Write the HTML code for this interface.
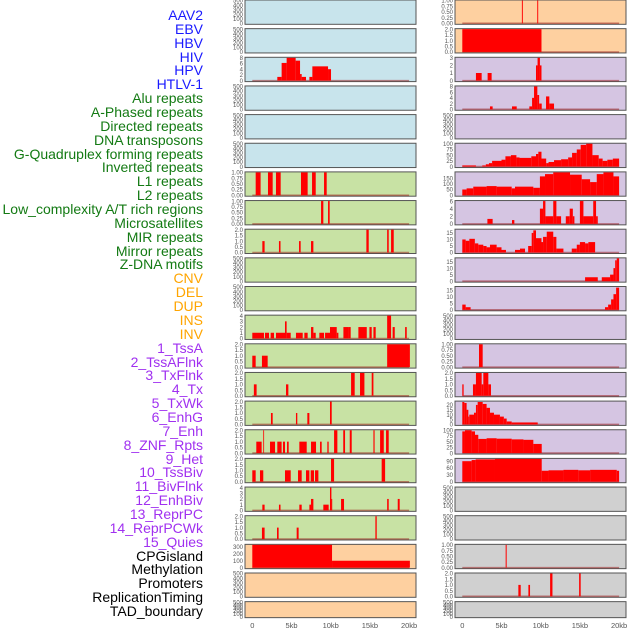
<!DOCTYPE html>
<html><head><meta charset="utf-8">
<style>
html,body{margin:0;padding:0;background:#fff;}
#wrap{position:relative;width:630px;height:630px;overflow:hidden;font-family:"Liberation Sans",sans-serif;}
.lab{position:absolute;right:427px;font-size:14px;line-height:14px;white-space:nowrap;text-align:right;}
</style></head>
<body>
<div id="wrap">
<div id="labels"></div>
<svg id="chart" width="630" height="630" style="position:absolute;left:0;top:0"></svg>
</div>
<script>
// ---------- label data ----------
const labelNames = ["AAV2","EBV","HBV","HIV","HPV","HTLV-1","Alu repeats","A-Phased repeats","Directed repeats","DNA transposons","G-Quadruplex forming repeats","Inverted repeats","L1 repeats","L2 repeats","Low_complexity A/T rich regions","Microsatellites","MIR repeats","Mirror repeats","Z-DNA motifs","CNV","DEL","DUP","INS","INV","1_TssA","2_TssAFlnk","3_TxFlnk","4_Tx","5_TxWk","6_EnhG","7_Enh","8_ZNF_Rpts","9_Het","10_TssBiv","11_BivFlnk","12_EnhBiv","13_ReprPC","14_ReprPCWk","15_Quies","CPGisland","Methylation","Promoters","ReplicationTiming","TAD_boundary"];
const labelGroups = [6,13,5,15,5];
const groupColors = ["#1a1aff","#137a13","#ffa500","#a030f0","#000000"];

// ---------- panel data (segments: [startKb, endKb, value]) ----------
const leftBg = ["b","b","b","b","b","b","g","g","g","g","g","g","g","g","g","g","g","g","g","p","p","p"];
const rightBg = ["p","p","l","l","l","l","l","l","l","l","l","l","l","l","l","l","l","y","y","y","y","y"];
const leftMax = [500,500,8,500,500,500,1,1,2,500,500,4,2,2,2,2,2,4,2,330,500,500];
const rightMax = [1,2,3,8,500,100,200,6,17.5,17.5,17.5,500,1,2,23.4,100,100,500,500,1,2,500];
const leftTicks = [[0,100,200,300,400,500],[0,100,200,300,400,500],[0,2,4,6,8],[0,100,200,300,400,500],[0,100,200,300,400,500],[0,100,200,300,400,500],[0,0.25,0.5,0.75,1],[0,0.25,0.5,0.75,1],[0,0.5,1,1.5,2],[0,100,200,300,400,500],[0,100,200,300,400,500],[0,1,2,3,4],[0,0.5,1,1.5,2],[0,0.5,1,1.5,2],[0,0.5,1,1.5,2],[0,0.5,1,1.5,2],[0,0.5,1,1.5,2],[0,1,2,3,4],[0,0.5,1,1.5,2],[0,100,200,300],[0,100,200,300,400,500],[0,100,200,300,400,500]];
const rightTicks = [[0,0.25,0.5,0.75,1],[0,0.5,1,1.5,2],[0,1,2,3],[0,2,4,6,8],[0,100,200,300,400,500],[0,25,50,75,100],[0,50,100,150],[0,2,4,6],[0,5,10,15],[0,5,10,15],[0,5,10,15],[0,100,200,300,400,500],[0,0.25,0.5,0.75,1],[0,0.5,1,1.5,2],[0,5,10,15,20],[0,25,50,75,100],[0,30,60,90],[0,100,200,300,400,500],[0,100,200,300,400,500],[0,0.25,0.5,0.75,1],[0,0.5,1,1.5,2],[0,100,200,300,400,500]];

const L03 = [[3.19,3.74,1.3],[3.74,4.38,6.2],[4.38,5.53,8],[5.53,6.09,7],[6.09,6.3,2.3],[6.3,6.85,1.3],[7.28,7.66,1.3],[7.66,9.66,5],[9.66,10.04,4]];
const L07 = [[0.43,1.06,1],[2.0,2.6,1],[3.02,3.62,1],[6.21,7.06,1],[7.62,8.09,1],[9.15,9.49,1]];
const L08 = [[8.77,9.06,1],[9.66,9.87,1]];
const L09 = [[1.28,1.57,1],[3.4,3.6,1],[5.96,6.17,1],[7.49,7.79,1],[14.55,14.85,2],[17.2,17.4,2],[17.7,18.04,2]];
const L12 = [[0,1.49,1],[1.62,2.13,1],[2.34,2.77,1],[3.02,4.17,1],[4.17,4.38,3],[4.38,4.9,1],[5.57,6.43,1],[6.64,7.06,1],[7.49,7.79,2],[7.79,8.09,1],[8.55,9.15,1],[9.28,9.91,1],[9.91,10.77,2],[10.77,10.98,1],[11.62,12.26,2],[12.26,12.55,2],[13.53,14.6,2],[14.94,15.23,2],[15.45,15.74,2],[17.2,17.7,4],[17.9,18.17,2],[19.49,19.7,2]];
const L13 = [[0,0.43,1],[1.23,1.96,1],[17.2,20.1,2]];
const L14 = [[0.2,0.55,1],[4.3,4.6,1],[12.6,13.06,2],[13.74,14.3,2],[15.23,15.45,2]];
const L15 = [[2.38,2.6,1],[5.57,5.74,1],[7.02,7.28,1],[9.91,10.13,2]];
const L16 = [[0.51,1.19,1],[1.4,1.49,2],[2.26,2.9,1],[3.19,3.74,1],[3.91,4.17,1],[4.43,4.64,1],[6.0,6.94,1],[7.49,8.13,1],[8.64,8.85,1],[9.57,9.74,1],[10.43,10.85,2],[11.6,11.83,2],[12.43,12.68,2],[15.45,15.6,2],[16.3,16.77,2],[17.06,17.4,2]];
const L17 = [[0,0.43,1],[0.98,1.4,1],[4.17,4.9,1],[5.83,6.3,1],[6.85,7.28,1],[7.45,7.87,1],[8.0,8.43,1],[10.04,10.43,2],[16.5,16.94,2]];
const L18 = [[1.28,1.57,1],[3.4,3.6,1],[6.0,6.3,1],[7.28,7.49,1],[7.49,7.79,2],[9.06,9.74,1],[9.91,10.09,4],[10.09,10.17,2],[11.32,11.7,2],[17.2,17.4,2],[18.55,18.8,2]];
const L19 = [[1.23,1.57,1],[3.15,3.36,1],[5.66,5.91,1],[15.7,15.87,2]];
const L20 = [[0,10.17,330],[10.17,20.1,100]];

const R01 = [[7.6,7.72,1],[9.56,9.68,1]];
const R02 = [[0,10.1,2]];
const R03 = [[1.74,2.47,1],[3.23,3.74,1],[9.4,9.6,2],[9.6,9.9,3],[9.9,10.1,2]];
const R04 = [[3.53,3.87,1],[6.34,6.94,1],[8.55,8.9,1],[8.9,9.15,4],[9.15,9.57,8],[9.57,9.8,5],[9.8,10.13,2],[10.68,11.1,4.5],[11.1,11.7,2]];
const R06 = [[0,1.74,5],[2.55,3.0,5],[3.0,3.4,10],[3.4,3.8,15],[3.8,5.0,25],[5.0,5.5,30],[5.5,6.2,45],[6.2,6.9,50],[6.9,7.3,40],[7.3,8.8,38],[8.8,9.4,45],[9.4,9.7,55],[9.7,10.1,65],[10.1,10.7,35],[10.7,11.0,15],[11.0,11.7,20],[11.7,12.6,28],[12.6,13.5,32],[13.5,14.0,40],[14.0,14.6,60],[14.6,15.1,75],[15.1,15.8,95],[15.8,16.6,100],[16.6,17.4,50],[17.4,17.9,35],[17.9,18.5,25],[18.5,19.2,30],[19.2,20,35]];
const R07 = [[0,0.55,50],[0.55,1.4,60],[1.4,3.1,75],[3.1,4.38,80],[4.38,6.3,75],[6.3,6.72,60],[6.72,9.06,75],[9.06,9.9,65],[9.9,10.55,165],[10.55,11.6,185],[11.6,13.74,200],[13.74,15.23,180],[15.23,16.3,140],[16.3,17.15,115],[17.15,18.0,185],[18.0,19.28,200],[19.28,20,165]];
const R08 = [[3.2,3.87,1.3],[6.34,6.64,1],[9.9,10.3,4],[10.3,10.6,6],[10.6,11.6,2],[11.6,12.0,6],[12.0,12.6,2],[13.2,13.7,2],[13.7,14.1,4],[14.1,14.3,2],[15.0,15.45,6],[15.45,16.7,2],[16.7,17.06,6],[17.06,17.28,2]];
const R09 = [[0,0.43,10],[0.43,0.9,9],[0.9,1.6,10.5],[1.6,2.04,7],[2.04,2.68,6],[2.68,3.1,5],[3.1,3.53,4],[3.53,4.38,6],[4.38,5.0,4],[5.0,5.57,2],[6.72,7.36,2],[7.36,8.0,3],[8.4,8.85,5],[8.85,9.06,15],[9.06,9.4,17],[9.4,10.1,11],[10.1,10.3,8],[10.3,10.77,12],[10.77,11.6,16],[11.6,12.0,12],[12.0,12.9,3],[13.96,14.6,3],[14.6,15.0,6],[15.0,15.66,8],[15.66,16.08,7],[16.08,16.94,8]];
const R10 = [[15.66,17.28,3],[17.79,18.85,3],[18.85,19.28,5],[19.28,19.5,10],[19.5,19.7,16],[19.7,20,17.5]];
const R11 = [[0,0.43,4],[0.43,1.06,2],[18.2,18.6,2],[18.6,18.98,4],[18.98,19.28,8],[19.28,19.62,12],[19.62,20,17]];
const R13 = [[2.13,2.6,1]];
const R14 = [[0,0.17,1],[1.36,1.74,1],[1.74,2.47,2],[2.47,2.68,1],[2.68,3.32,2],[3.32,3.66,1]];
const R15 = [[0,0.26,23],[0.26,0.55,22],[0.55,0.77,15],[0.77,0.89,8],[0.89,1.49,10],[1.49,1.74,12],[1.74,1.96,20],[1.96,2.6,23],[2.6,3.1,21],[3.1,3.53,17],[3.53,4.04,12],[4.04,4.8,10],[4.8,5.3,8],[5.3,5.66,6],[5.66,6.3,3],[6.3,9.62,2]];
const R16 = [[0,0.34,95],[0.34,1.19,100],[1.19,1.62,95],[1.62,2.04,80],[2.04,3.1,62],[3.1,4.38,65],[4.38,6.3,63],[6.3,7.8,60],[7.8,9.06,58],[9.06,10.13,40]];
const R17 = [[0,1.19,90],[1.19,1.7,95],[1.7,4.17,98],[4.17,10.13,100],[10.13,11.0,48],[11.0,12.9,50],[12.9,14.8,52],[14.8,16.3,50],[16.3,19.7,52],[19.7,20,48]];
const R20 = [[5.53,5.66,1]];
const R21 = [[7.15,7.45,1],[8.43,8.64,1],[11.2,11.5,2],[14.9,15.1,2]];

const leftData = [null,null,L03,null,null,null,L07,L08,L09,null,null,L12,L13,L14,L15,L16,L17,L18,L19,L20,null,null];
const rightData = [R01,R02,R03,R04,null,R06,R07,R08,R09,R10,R11,null,R13,R14,R15,R16,R17,null,null,R20,R21,null];
const xTickVals = [0,5,10,15,20];
const xTickLabels = ["0","5kb","10kb","15kb","20kb"];

// ---------- rendering ----------
const NS = "http://www.w3.org/2000/svg";
const svg = document.getElementById("chart");
const bgColors = {b:"#c8e4ec",g:"#c8e2a4",p:"#fed0a0",l:"#d5c5e2",y:"#d0d0d0"};
function mk(tag, attrs, parent){const e=document.createElementNS(NS,tag);for(const k in attrs)e.setAttribute(k,attrs[k]);(parent||svg).appendChild(e);return e;}

// labels
const labDiv = document.getElementById("labels");
let gi=0, gc=0;
labelNames.forEach((n,i)=>{
  const d=document.createElement("div");
  d.className="lab";
  d.textContent=n;
  d.style.top=(8+i*13.86)+"px";
  d.style.color=groupColors[gi];
  
  
  labDiv.appendChild(d);
  gc++; if(gc>=labelGroups[gi]){gi++;gc=0;}
});

const cols = [{x0:245,x1:416,d0:252.3},{x0:455,x1:626,d0:462.3}];
const kbPx = 7.84;
function fmt(ticks,t){
  if(ticks.some(v=>v%1!==0 && (v*100)%50!==0)) return t.toFixed(2);
  if(ticks.some(v=>v%1!==0)) return t.toFixed(1);
  return String(t);
}
function drawPanel(col, row, bg, data, ymax, ticks, side){
  const top = row*28.65;
  const h = row===21 ? 16 : 24.3;
  const g = mk("g",{});
  
  
  const r = mk("rect",{x:col.x0,y:top,width:col.x1-col.x0,height:h,fill:bgColors[bg],stroke:"#555","stroke-width":1},g);
  
  
  const y0 = top+h-1, yscale = v => y0 - (v/ymax)*(h-1.5);
  const xs = kb => col.d0 + kb*kbPx;
  if(data){
    const bl = mk("line",{x1:xs(0),x2:xs(20),y1:y0,y2:y0,stroke:"rgba(150,20,20,0.5)","stroke-width":1.5},g);
    
    
    data.forEach(s=>{
      const b = mk("rect",{x:xs(s[0]),y:yscale(s[2]),width:Math.max(0.8,xs(s[1])-xs(s[0])),height:y0-yscale(s[2]),fill:"#ff0000"},g);
      
      
    });
  }
  const tmax = ticks[ticks.length-1];
  ticks.forEach(t=>{
    const ty = data ? yscale(t) : y0-(t/tmax)*(h-1.5);
    const tx = mk("text",{x:col.x0-2,y:ty+2.2,"font-size":6,fill:"#555","text-anchor":"end","font-family":"Liberation Sans, sans-serif"},g);
    tx.textContent = fmt(ticks,t);
    
    
  });
}
for(let r=0;r<22;r++){
  drawPanel(cols[0],r,leftBg[r],leftData[r],leftMax[r],leftTicks[r],'left');
  drawPanel(cols[1],r,rightBg[r],rightData[r],rightMax[r],rightTicks[r],'right');
}
cols.forEach((c,ci)=>{
  xTickVals.forEach((v,i)=>{
    const t = mk("text",{x:c.d0+v*kbPx,y:628,"font-size":7.5,fill:"#555","text-anchor":"middle","font-family":"Liberation Sans, sans-serif"});
    t.textContent = xTickLabels[i];
    
    
  });
});
</script>
</body></html>
